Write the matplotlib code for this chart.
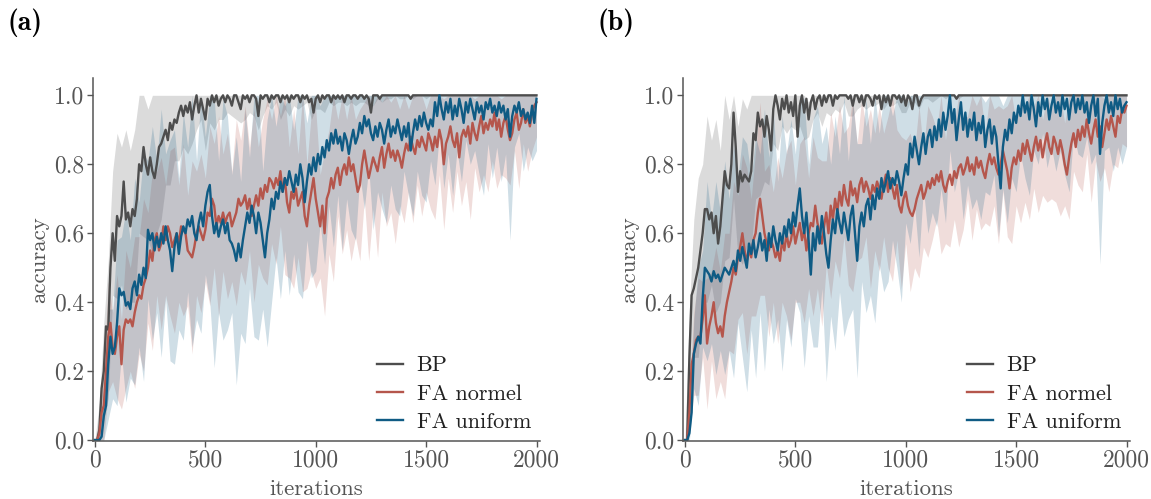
import numpy as np
import matplotlib
matplotlib.use("Agg")
import matplotlib.pyplot as plt

# iterations: mean curves every 10 steps, spread (std) every 20 steps
iters = np.arange(0, 2001, 10)
iters_band = np.arange(0, 2001, 20)

# ---------------- panel (a) ----------------
a_bp = [
    0.0, 0.0, 0.03, 0.15, 0.2, 0.33, 0.32, 0.5, 0.6, 0.52,
    0.65, 0.62, 0.65, 0.75, 0.64, 0.66, 0.62, 0.67, 0.65, 0.7,
    0.8, 0.78, 0.85, 0.8, 0.77, 0.82, 0.78, 0.76, 0.8, 0.85,
    0.86, 0.88, 0.9, 0.87, 0.92, 0.9, 0.93, 0.92, 0.95, 0.97,
    0.94, 0.97, 0.95, 0.98, 0.93, 0.97, 1.0, 0.95, 0.99, 0.96,
    0.93, 0.99, 0.97, 1.0, 0.98, 1.0, 0.97, 0.99, 1.0, 0.98,
    1.0, 0.99, 0.97, 1.0, 1.0, 0.98, 0.96, 1.0, 0.99, 1.0,
    0.98, 1.0, 1.0, 0.99, 0.94, 1.0, 0.99, 1.0, 1.0, 0.98,
    1.0, 0.99, 1.0, 1.0, 0.98, 1.0, 0.99, 1.0, 0.98, 1.0,
    0.99, 1.0, 1.0, 0.98, 1.0, 0.99, 1.0, 0.98, 0.99, 0.95,
    0.99, 1.0, 0.98, 1.0, 0.99, 1.0, 1.0, 0.98, 1.0, 0.99,
    1.0, 0.99, 1.0, 0.98, 1.0, 1.0, 0.99, 1.0, 1.0, 0.99,
    1.0, 1.0, 0.99, 1.0, 0.99, 0.95, 1.0, 1.0, 1.0, 0.99,
    1.0, 1.0, 1.0, 1.0, 1.0, 1.0, 1.0, 1.0, 1.0, 1.0,
    1.0, 1.0, 1.0, 0.99, 1.0, 1.0, 1.0, 1.0, 1.0, 1.0,
    1.0, 1.0, 1.0, 1.0, 1.0, 1.0, 1.0, 1.0, 1.0, 1.0,
    1.0, 1.0, 1.0, 1.0, 1.0, 1.0, 1.0, 1.0, 1.0, 1.0,
    1.0, 1.0, 1.0, 1.0, 1.0, 1.0, 1.0, 1.0, 1.0, 1.0,
    1.0, 1.0, 1.0, 1.0, 1.0, 1.0, 1.0, 1.0, 1.0, 1.0,
    1.0, 1.0, 1.0, 1.0, 1.0, 1.0, 1.0, 1.0, 1.0, 1.0,
    1.0,
]
a_normel = [
    0.0, 0.0, 0.02, 0.08, 0.1, 0.2, 0.3, 0.34, 0.27, 0.25,
    0.3, 0.33, 0.22, 0.32, 0.35, 0.34, 0.35, 0.33, 0.37, 0.4,
    0.42, 0.41, 0.45, 0.47, 0.5, 0.55, 0.52, 0.58, 0.6, 0.55,
    0.57, 0.62, 0.58, 0.62, 0.6, 0.56, 0.58, 0.6, 0.57, 0.62,
    0.61, 0.6, 0.55, 0.54, 0.53, 0.56, 0.6, 0.62, 0.6, 0.58,
    0.61, 0.66, 0.65, 0.7, 0.68, 0.62, 0.65, 0.63, 0.66, 0.63,
    0.65, 0.66, 0.62, 0.64, 0.66, 0.7, 0.68, 0.69, 0.71, 0.67,
    0.7, 0.65, 0.68, 0.71, 0.68, 0.73, 0.7, 0.74, 0.72, 0.76,
    0.75, 0.73, 0.76, 0.74, 0.78, 0.72, 0.76, 0.69, 0.66, 0.72,
    0.7, 0.73, 0.68, 0.7, 0.72, 0.65, 0.62, 0.68, 0.72, 0.76,
    0.7, 0.66, 0.62, 0.68, 0.6, 0.7, 0.72, 0.76, 0.73, 0.77,
    0.79, 0.74, 0.78, 0.8, 0.77, 0.82, 0.78, 0.8, 0.76, 0.72,
    0.74, 0.8, 0.84, 0.8, 0.76, 0.79, 0.82, 0.8, 0.78, 0.82,
    0.85, 0.79, 0.83, 0.86, 0.82, 0.84, 0.81, 0.84, 0.82, 0.79,
    0.83, 0.86, 0.84, 0.88, 0.85, 0.83, 0.87, 0.85, 0.88, 0.86,
    0.84, 0.89, 0.87, 0.84, 0.88, 0.85, 0.9, 0.87, 0.8, 0.86,
    0.88, 0.91, 0.87, 0.85, 0.89, 0.82, 0.88, 0.9, 0.88, 0.91,
    0.86, 0.92, 0.89, 0.87, 0.91, 0.94, 0.89, 0.92, 0.9, 0.93,
    0.91, 0.95, 0.9, 0.93, 0.88, 0.92, 0.94, 0.9, 0.87, 0.89,
    0.93, 0.95, 0.9, 0.92, 0.96, 0.92, 0.94, 0.91, 0.95, 0.97,
    0.98,
]
a_uniform = [
    0.0, 0.0, 0.0, 0.01, 0.07, 0.1, 0.22, 0.3, 0.25, 0.27,
    0.34, 0.44, 0.42, 0.43, 0.39, 0.4, 0.38, 0.44, 0.46, 0.42,
    0.48, 0.45, 0.5, 0.47, 0.61, 0.58, 0.6, 0.55, 0.59, 0.56,
    0.6, 0.57, 0.62, 0.58, 0.55, 0.49, 0.56, 0.6, 0.54, 0.59,
    0.62, 0.6, 0.64, 0.62, 0.65, 0.6, 0.58, 0.63, 0.66, 0.62,
    0.68, 0.72, 0.74, 0.65, 0.6, 0.63, 0.59, 0.62, 0.64, 0.6,
    0.63, 0.58, 0.57, 0.55, 0.52, 0.57, 0.53, 0.58, 0.62, 0.66,
    0.63, 0.68, 0.65, 0.6, 0.66, 0.63, 0.58, 0.53, 0.6, 0.64,
    0.7, 0.67, 0.72, 0.7, 0.75, 0.72, 0.76, 0.74, 0.78, 0.75,
    0.72, 0.77, 0.74, 0.8, 0.76, 0.69, 0.75, 0.8, 0.77, 0.82,
    0.78, 0.83, 0.8, 0.85, 0.82, 0.87, 0.84, 0.89, 0.86, 0.9,
    0.86, 0.88, 0.84, 0.89, 0.87, 0.83, 0.87, 0.9, 0.86, 0.88,
    0.92, 0.89, 0.94, 0.91, 0.93, 0.89, 0.87, 0.91, 0.88, 0.92,
    0.9, 0.86, 0.9, 0.93, 0.88, 0.91, 0.89, 0.93, 0.9, 0.87,
    0.91, 0.88, 0.92, 0.84, 0.89, 0.93, 0.9, 0.94, 0.91, 0.95,
    0.92, 0.9, 0.93, 0.91, 0.98, 0.94, 1.0, 0.96, 0.93, 0.98,
    0.95, 0.99, 0.93, 0.97, 0.94, 0.99, 0.96, 0.92, 0.98, 0.95,
    0.99, 0.96, 0.93, 0.98, 0.95, 0.97, 0.93, 0.98, 0.96, 0.99,
    0.95, 0.97, 0.94, 0.98, 0.95, 0.97, 0.93, 0.96, 0.88, 0.94,
    0.97, 0.95, 0.98, 0.94, 0.96, 0.93, 0.95, 0.92, 0.97, 0.92,
    0.99,
]
a_bp_sd = [
    0.0, 0.08, 0.14, 0.2, 0.18, 0.24, 0.2, 0.26, 0.22, 0.25,
    0.2, 0.26, 0.19, 0.24, 0.2, 0.22, 0.16, 0.18, 0.12, 0.14,
    0.09, 0.12, 0.07, 0.1, 0.06, 0.09, 0.05, 0.08, 0.04, 0.07,
    0.05, 0.03, 0.07, 0.04, 0.06, 0.03, 0.06, 0.04, 0.05, 0.03,
    0.04, 0.02, 0.05, 0.03, 0.04, 0.02, 0.04, 0.03, 0.02, 0.06,
    0.03, 0.02, 0.04, 0.02, 0.03, 0.02, 0.02, 0.03, 0.01, 0.03,
    0.02, 0.01, 0.02, 0.03, 0.01, 0.02, 0.01, 0.01, 0.0, 0.01,
    0.01, 0.0, 0.01, 0.0, 0.0, 0.01, 0.0, 0.0, 0.0, 0.0,
    0.0, 0.0, 0.0, 0.0, 0.0, 0.0, 0.0, 0.0, 0.0, 0.0,
    0.0, 0.0, 0.0, 0.0, 0.0, 0.0, 0.0, 0.0, 0.0, 0.0,
    0.0,
]
a_normel_sd = [
    0.0, 0.04, 0.1, 0.16, 0.1, 0.18, 0.13, 0.2, 0.15, 0.22,
    0.17, 0.25, 0.16, 0.26, 0.18, 0.25, 0.16, 0.24, 0.27, 0.17,
    0.25, 0.16, 0.28, 0.18, 0.23, 0.15, 0.26, 0.18, 0.29, 0.17,
    0.24, 0.16, 0.27, 0.19, 0.26, 0.15, 0.28, 0.17, 0.23, 0.27,
    0.18, 0.25, 0.16, 0.28, 0.19, 0.26, 0.15, 0.29, 0.18, 0.23,
    0.26, 0.15, 0.24, 0.18, 0.27, 0.14, 0.24, 0.16, 0.26, 0.17,
    0.22, 0.14, 0.24, 0.15, 0.25, 0.13, 0.21, 0.16, 0.24, 0.14,
    0.2, 0.12, 0.22, 0.13, 0.23, 0.12, 0.2, 0.24, 0.13, 0.19,
    0.12, 0.21, 0.11, 0.2, 0.13, 0.22, 0.1, 0.19, 0.12, 0.18,
    0.1, 0.17, 0.11, 0.18, 0.13, 0.09, 0.17, 0.1, 0.16, 0.11,
    0.1,
]
a_uniform_sd = [
    0.0, 0.02, 0.08, 0.16, 0.13, 0.24, 0.17, 0.28, 0.2, 0.3,
    0.21, 0.33, 0.2, 0.31, 0.22, 0.36, 0.21, 0.32, 0.34, 0.22,
    0.33, 0.21, 0.38, 0.23, 0.35, 0.2, 0.34, 0.39, 0.22, 0.35,
    0.31, 0.2, 0.36, 0.22, 0.34, 0.19, 0.35, 0.37, 0.2, 0.33,
    0.3, 0.19, 0.34, 0.21, 0.36, 0.18, 0.31, 0.35, 0.17, 0.3,
    0.29, 0.17, 0.31, 0.16, 0.3, 0.15, 0.29, 0.17, 0.26, 0.28,
    0.15, 0.27, 0.14, 0.26, 0.16, 0.23, 0.27, 0.14, 0.22, 0.25,
    0.13, 0.21, 0.24, 0.12, 0.2, 0.23, 0.12, 0.24, 0.11, 0.2,
    0.12, 0.22, 0.1, 0.21, 0.11, 0.19, 0.09, 0.18, 0.22, 0.1,
    0.19, 0.09, 0.2, 0.1, 0.3, 0.12, 0.09, 0.18, 0.1, 0.16,
    0.15,
]

# ---------------- panel (b) ----------------
b_bp = [
    0.0, 0.0, 0.24, 0.42, 0.44, 0.47, 0.5, 0.55, 0.6, 0.67,
    0.67, 0.64, 0.66, 0.6, 0.65, 0.57, 0.62, 0.7, 0.78, 0.74,
    0.73, 0.8, 0.95, 0.85, 0.72, 0.78, 0.75, 0.77, 0.76, 0.75,
    0.78, 0.89, 0.87, 0.95, 0.91, 0.93, 0.88, 0.94, 0.9, 0.84,
    0.96, 1.0, 0.97, 0.93, 0.99, 0.96, 1.0, 0.95, 0.98, 0.94,
    1.0, 0.88, 0.97, 1.0, 0.95, 0.99, 0.93, 0.98, 1.0, 0.96,
    0.99, 1.0, 0.97, 1.0, 0.98, 1.0, 1.0, 0.97, 1.0, 0.99,
    1.0, 1.0, 1.0, 1.0, 0.99, 1.0, 0.97, 1.0, 1.0, 0.98,
    1.0, 0.97, 1.0, 1.0, 0.99, 0.97, 1.0, 0.99, 1.0, 0.96,
    1.0, 0.98, 1.0, 0.97, 1.0, 1.0, 0.99, 1.0, 0.98, 1.0,
    0.97, 1.0, 0.99, 0.96, 1.0, 1.0, 0.97, 0.99, 1.0, 1.0,
    1.0, 1.0, 1.0, 1.0, 1.0, 1.0, 1.0, 1.0, 1.0, 1.0,
    1.0, 1.0, 1.0, 0.99, 1.0, 1.0, 1.0, 1.0, 1.0, 1.0,
    1.0, 1.0, 1.0, 1.0, 1.0, 1.0, 1.0, 1.0, 1.0, 1.0,
    1.0, 1.0, 1.0, 1.0, 1.0, 1.0, 1.0, 1.0, 1.0, 1.0,
    1.0, 1.0, 1.0, 1.0, 1.0, 1.0, 1.0, 1.0, 1.0, 1.0,
    1.0, 1.0, 1.0, 1.0, 1.0, 1.0, 1.0, 1.0, 1.0, 1.0,
    1.0, 1.0, 1.0, 1.0, 1.0, 1.0, 1.0, 1.0, 1.0, 1.0,
    1.0, 1.0, 1.0, 1.0, 1.0, 1.0, 1.0, 1.0, 1.0, 1.0,
    1.0, 1.0, 1.0, 1.0, 1.0, 1.0, 1.0, 1.0, 1.0, 1.0,
    1.0,
]
b_normel = [
    0.0, 0.0, 0.08, 0.22, 0.25, 0.29, 0.3, 0.3, 0.35, 0.42,
    0.28, 0.33, 0.36, 0.4, 0.34, 0.31, 0.33, 0.3, 0.36, 0.4,
    0.43, 0.46, 0.5, 0.48, 0.53, 0.56, 0.6, 0.55, 0.52, 0.55,
    0.53, 0.58, 0.6, 0.66, 0.7, 0.65, 0.6, 0.57, 0.55, 0.58,
    0.56, 0.53, 0.55, 0.52, 0.58, 0.55, 0.6, 0.56, 0.58, 0.62,
    0.57, 0.6, 0.63, 0.58, 0.61, 0.55, 0.6, 0.63, 0.62, 0.68,
    0.63, 0.6, 0.57, 0.62, 0.66, 0.6, 0.68, 0.64, 0.7, 0.66,
    0.72, 0.68, 0.74, 0.7, 0.68, 0.75, 0.71, 0.73, 0.69, 0.74,
    0.76, 0.72, 0.75, 0.73, 0.7, 0.74, 0.72, 0.75, 0.73, 0.7,
    0.74, 0.77, 0.72, 0.76, 0.73, 0.7, 0.74, 0.68, 0.66, 0.7,
    0.72, 0.68, 0.66, 0.65, 0.67, 0.7, 0.72, 0.74, 0.7, 0.72,
    0.75, 0.73, 0.76, 0.74, 0.77, 0.75, 0.78, 0.74, 0.72, 0.75,
    0.77, 0.74, 0.78, 0.76, 0.79, 0.8, 0.77, 0.79, 0.82, 0.78,
    0.8, 0.77, 0.82, 0.79, 0.81, 0.78, 0.76, 0.8, 0.83, 0.8,
    0.82, 0.79, 0.77, 0.8, 0.84, 0.81, 0.78, 0.73, 0.79, 0.82,
    0.8, 0.84, 0.81, 0.86, 0.83, 0.87, 0.84, 0.81, 0.85, 0.88,
    0.84, 0.87, 0.82, 0.86, 0.89, 0.85, 0.83, 0.88, 0.86, 0.83,
    0.87, 0.84, 0.8, 0.77, 0.82, 0.86, 0.89, 0.85, 0.9, 0.87,
    0.91, 0.88, 0.93, 0.89, 0.86, 0.9, 0.93, 0.88, 0.91, 0.85,
    0.89, 0.93, 0.9, 0.94, 0.91, 0.88, 0.94, 0.92, 0.96, 0.95,
    0.97,
]
b_uniform = [
    0.0, 0.0, 0.02, 0.08, 0.25, 0.28, 0.3, 0.28, 0.41, 0.5,
    0.49, 0.48, 0.46, 0.49, 0.47, 0.48, 0.46, 0.48, 0.5, 0.49,
    0.48, 0.5, 0.52, 0.49, 0.55, 0.52, 0.56, 0.53, 0.5, 0.57,
    0.54, 0.58, 0.53, 0.56, 0.6, 0.55, 0.58, 0.52, 0.6, 0.56,
    0.62, 0.58, 0.55, 0.6, 0.57, 0.62, 0.59, 0.64, 0.6, 0.66,
    0.62, 0.68, 0.73, 0.65, 0.6, 0.66, 0.58, 0.48, 0.6, 0.55,
    0.62, 0.57, 0.65, 0.6, 0.54, 0.5, 0.58, 0.64, 0.6, 0.67,
    0.63, 0.6, 0.66, 0.62, 0.58, 0.65, 0.68, 0.6, 0.52, 0.62,
    0.66, 0.62, 0.68, 0.7, 0.64, 0.71, 0.67, 0.73, 0.7, 0.76,
    0.72, 0.75, 0.78, 0.73, 0.76, 0.74, 0.78, 0.75, 0.71, 0.76,
    0.8, 0.77, 0.86, 0.82, 0.88, 0.84, 0.8, 0.85, 0.89, 0.83,
    0.88, 0.9, 0.85, 0.91, 0.87, 0.93, 0.88, 0.95, 0.9, 0.94,
    1.0, 0.92, 0.96, 0.87, 0.93, 0.98, 0.9, 0.95, 0.88, 0.93,
    0.9, 0.95, 0.87, 0.92, 0.89, 0.94, 0.85, 0.9, 0.93, 0.86,
    0.91, 0.88, 0.8, 0.73, 0.85, 0.9, 0.87, 0.93, 0.89, 0.95,
    0.92, 0.97, 0.94, 1.0, 0.95, 0.98, 0.93, 1.0, 0.96, 0.91,
    0.98, 0.94, 1.0, 0.96, 0.99, 0.93, 0.97, 1.0, 0.95, 0.98,
    0.94, 1.0, 0.96, 0.99, 0.93, 0.98, 1.0, 0.95, 0.99, 0.96,
    1.0, 0.95, 0.98, 0.92, 0.97, 1.0, 0.94, 0.99, 0.83, 0.92,
    0.97, 1.0, 0.95, 0.98, 0.94, 1.0, 0.96, 0.99, 0.95, 0.97,
    0.98,
]
b_bp_sd = [
    0.0, 0.14, 0.2, 0.26, 0.2, 0.27, 0.21, 0.28, 0.22, 0.26,
    0.2, 0.25, 0.19, 0.24, 0.2, 0.22, 0.17, 0.2, 0.13, 0.16,
    0.1, 0.13, 0.08, 0.11, 0.07, 0.1, 0.06, 0.08, 0.05, 0.07,
    0.04, 0.06, 0.03, 0.06, 0.04, 0.05, 0.02, 0.05, 0.03, 0.04,
    0.03, 0.04, 0.02, 0.03, 0.02, 0.04, 0.02, 0.03, 0.01, 0.03,
    0.02, 0.01, 0.02, 0.01, 0.01, 0.01, 0.02, 0.01, 0.0, 0.01,
    0.0, 0.0, 0.01, 0.0, 0.0, 0.0, 0.0, 0.0, 0.0, 0.0,
    0.0, 0.0, 0.0, 0.0, 0.0, 0.0, 0.0, 0.0, 0.0, 0.0,
    0.0, 0.0, 0.0, 0.0, 0.0, 0.0, 0.0, 0.0, 0.0, 0.0,
    0.0, 0.0, 0.0, 0.0, 0.0, 0.0, 0.0, 0.0, 0.0, 0.0,
    0.0,
]
b_normel_sd = [
    0.0, 0.06, 0.12, 0.17, 0.11, 0.19, 0.13, 0.22, 0.16, 0.24,
    0.17, 0.25, 0.18, 0.23, 0.27, 0.17, 0.24, 0.28, 0.18, 0.25,
    0.16, 0.27, 0.18, 0.24, 0.29, 0.17, 0.23, 0.27, 0.16, 0.26,
    0.19, 0.24, 0.15, 0.27, 0.18, 0.25, 0.15, 0.23, 0.28, 0.17,
    0.23, 0.16, 0.26, 0.17, 0.24, 0.15, 0.22, 0.27, 0.16, 0.22,
    0.15, 0.23, 0.17, 0.25, 0.14, 0.22, 0.18, 0.13, 0.24, 0.15,
    0.21, 0.14, 0.23, 0.16, 0.12, 0.22, 0.15, 0.2, 0.13, 0.21,
    0.14, 0.2, 0.12, 0.19, 0.22, 0.12, 0.18, 0.14, 0.2, 0.12,
    0.18, 0.11, 0.2, 0.13, 0.17, 0.22, 0.12, 0.18, 0.11, 0.16,
    0.19, 0.1, 0.17, 0.12, 0.16, 0.1, 0.18, 0.11, 0.15, 0.1,
    0.12,
]
b_uniform_sd = [
    0.0, 0.04, 0.1, 0.2, 0.14, 0.26, 0.18, 0.28, 0.2, 0.31,
    0.22, 0.34, 0.21, 0.32, 0.36, 0.22, 0.35, 0.23, 0.38, 0.22,
    0.34, 0.2, 0.37, 0.24, 0.33, 0.21, 0.36, 0.39, 0.22, 0.33,
    0.35, 0.21, 0.37, 0.22, 0.34, 0.2, 0.36, 0.23, 0.3, 0.34,
    0.2, 0.31, 0.22, 0.33, 0.19, 0.29, 0.32, 0.18, 0.28, 0.31,
    0.17, 0.29, 0.2, 0.27, 0.16, 0.28, 0.19, 0.25, 0.15, 0.27,
    0.16, 0.24, 0.15, 0.26, 0.14, 0.23, 0.17, 0.25, 0.13, 0.22,
    0.14, 0.21, 0.12, 0.24, 0.13, 0.2, 0.11, 0.19, 0.22, 0.12,
    0.18, 0.11, 0.2, 0.12, 0.17, 0.1, 0.19, 0.21, 0.11, 0.16,
    0.18, 0.1, 0.17, 0.11, 0.32, 0.13, 0.1, 0.16, 0.11, 0.15,
    0.13,
]

labels = ["BP", "FA normel", "FA uniform"]
colors = ["#4d4d4d", "#b5564c", "#0f5b84"]
panel_letters = ["(a)", "(b)"]

panels = [
    ([a_bp, a_normel, a_uniform], [a_bp_sd, a_normel_sd, a_uniform_sd]),
    ([b_bp, b_normel, b_uniform], [b_bp_sd, b_normel_sd, b_uniform_sd]),
]

plt.rcParams["font.family"] = "cmr10"
plt.rcParams["axes.unicode_minus"] = False
plt.rcParams["mathtext.fontset"] = "cm"

grey = "#555555"
fig = plt.figure(figsize=(11.51, 4.99), dpi=100)

lefts = [0.0806, 0.5932]
for k, (means, sds) in enumerate(panels):
    ax = fig.add_axes([lefts[k], 0.116, 0.3884, 0.7275])
    # bands first
    for m, sd, c in zip(means, sds, colors):
        m_band = np.array(m)[::2]
        sd = np.array(sd)
        lo = np.clip(m_band - sd, 0, 1)
        hi = np.clip(m_band + sd, 0, 1)
        ax.fill_between(iters_band, lo, hi, color=c, alpha=0.2, linewidth=0)
    for m, c, lab in zip(means, colors, labels):
        ax.plot(iters, m, color=c, lw=1.7, label=lab)

    ax.set_xlim(-10, 2015)
    ax.set_ylim(-0.003, 1.05)
    ax.set_xticks([0, 500, 1000, 1500, 2000])
    ax.set_yticks([0.0, 0.2, 0.4, 0.6, 0.8, 1.0])
    ax.set_yticklabels(["0.0", "0.2", "0.4", "0.6", "0.8", "1.0"])
    for s in ["top", "right"]:
        ax.spines[s].set_visible(False)
    for s in ["left", "bottom"]:
        ax.spines[s].set_color(grey)
        ax.spines[s].set_linewidth(1.1)
    ax.tick_params(axis="both", colors=grey, labelsize=17, length=4, width=1, pad=2)
    ax.set_xlabel("iterations", fontsize=16.5, color=grey, labelpad=6)
    ax.set_ylabel("accuracy", fontsize=16.5, color=grey, labelpad=4)

    leg = ax.legend(loc="lower right", bbox_to_anchor=(1.0, 0.0), frameon=False,
                    fontsize=16, handlelength=1.2, handletextpad=0.6,
                    labelspacing=0.4, borderaxespad=0.0)
    for t in leg.get_texts():
        t.set_color("#222222")

    fig.text(lefts[k] - 0.074, 0.955, panel_letters[k], fontsize=20,
             fontfamily="cmb10", va="center", ha="left")

fig.savefig("out.png", dpi=100)
